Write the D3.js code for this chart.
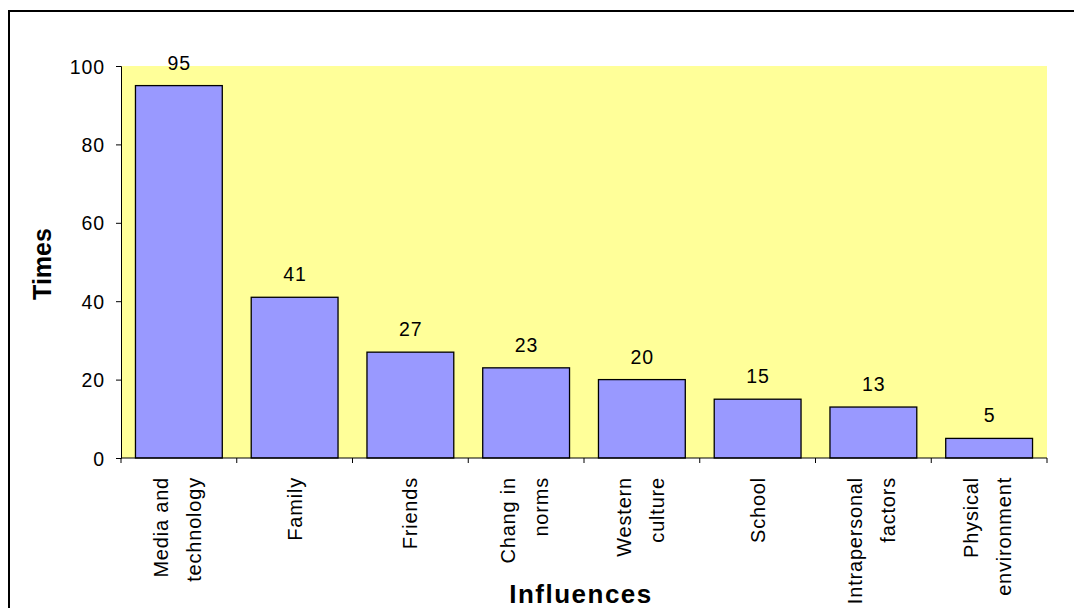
<!DOCTYPE html>
<html><head><meta charset="utf-8">
<script src="https://cdn.jsdelivr.net/npm/d3@7"></script>
<style>body{margin:0;background:#fff}svg{display:block;font-family:"Liberation Sans",Arial,sans-serif}</style>
</head><body>
<svg id="c" width="1074" height="608"></svg>
<script>
const categories = ["Media and technology","Family","Friends","Chang in norms","Western culture","School","Intrapersonal factors","Physical environment"];
const labelLines = [["Media and","technology"],["Family"],["Friends"],["Chang in","norms"],["Western","culture"],["School"],["Intrapersonal","factors"],["Physical","environment"]];
const values = [95,41,27,23,20,15,13,5];
const yTicks = [0,20,40,60,80,100];

const svg = d3.select("#c");
const m = {l:121, r:1047, t:66, b:458};
const FS = 19.5, LS = 0.9;
const CFS = 20, CLS = 0.8;

// outer frame
svg.append("path").attr("d","M9,620 V11 H1080").attr("fill","none").attr("stroke","#000").attr("stroke-width",2);

const x = d3.scaleBand().domain(categories).range([m.l,m.r]).paddingInner(0.25).paddingOuter(0.125);
const y = d3.scaleLinear().domain([0,100]).range([m.b,m.t]);

svg.append("rect").attr("x",m.l).attr("y",m.t).attr("width",m.r-m.l).attr("height",m.b-m.t).attr("fill","#FFFF99");

svg.selectAll(".bar").data(values).enter().append("rect")
  .attr("x",(d,i)=>x(categories[i])).attr("y",d=>y(d))
  .attr("width",x.bandwidth()).attr("height",d=>y(0)-y(d))
  .attr("fill","#9999FF").attr("stroke","#000").attr("stroke-width",1.3);

svg.selectAll(".vl").data(values).enter().append("text")
  .attr("x",(d,i)=>x(categories[i])+x.bandwidth()/2+LS/2).attr("y",d=>y(d)-16)
  .attr("text-anchor","middle").attr("font-size",FS).attr("letter-spacing",LS).text(d=>d);

// y axis
const ya = svg.append("g").attr("transform",`translate(${m.l},0)`)
  .call(d3.axisLeft(y).tickValues(yTicks).tickSize(5).tickPadding(11));
ya.selectAll("text").attr("font-size",FS).attr("letter-spacing",LS).attr("dy","0.36em")
  .attr("font-family","Liberation Sans, Arial, sans-serif").attr("fill","#000");
ya.select(".domain").attr("stroke","#000");

// x axis line + boundary ticks
const bounds = d3.range(categories.length+1).map(i=>m.l + i*(m.r-m.l)/categories.length);
svg.append("line").attr("x1",m.l).attr("x2",m.r).attr("y1",m.b).attr("y2",m.b).attr("stroke","#000");
svg.selectAll(".bt").data(bounds).enter().append("line")
  .attr("x1",d=>d).attr("x2",d=>d).attr("y1",m.b).attr("y2",m.b+5).attr("stroke","#000");

// category labels, rotated
labelLines.forEach((lines,i)=>{
  const cx = x(categories[i])+x.bandwidth()/2;
  const n = lines.length;
  lines.forEach((ln,j)=>{
    const off = n===1 ? 7 : (j===0 ? -11 : 22);
    svg.append("text")
      .attr("transform",`translate(${cx+off},477) rotate(-90)`)
      .attr("text-anchor","end").attr("font-size",CFS).attr("letter-spacing",CLS).text(ln);
  });
});

svg.append("text").attr("transform","translate(51,264) rotate(-90)")
  .attr("text-anchor","middle").attr("font-size",25).attr("font-weight","bold").text("Times");
svg.append("text").attr("x",581).attr("y",603).attr("text-anchor","middle")
  .attr("font-size",26).attr("font-weight","bold").attr("letter-spacing",1.5).text("Influences");
</script>
</body></html>
